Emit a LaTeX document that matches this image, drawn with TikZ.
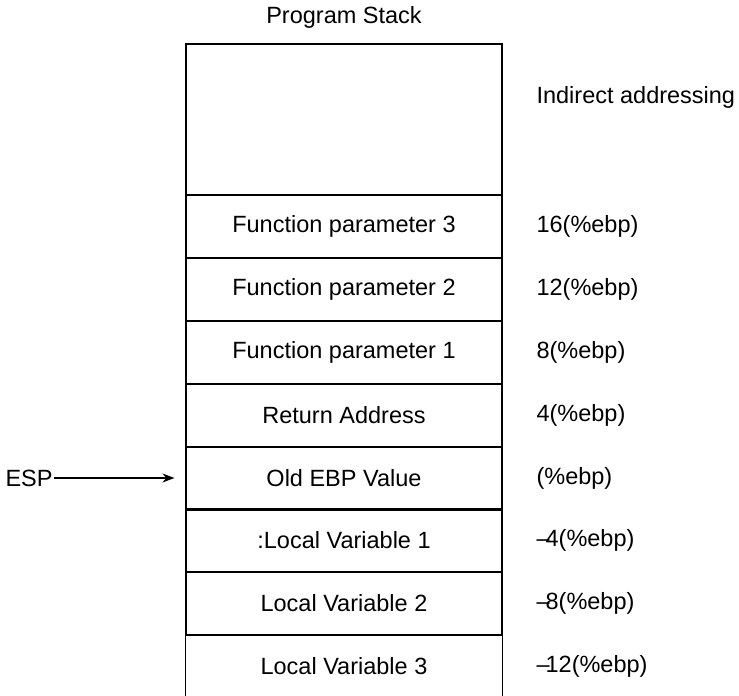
\documentclass[tikz,border=0pt]{standalone}
\usepackage{fontspec}
\setmainfont{Liberation Sans}
\usetikzlibrary{arrows.meta}

\tikzset{
  cell/.style={draw, minimum width=316pt, minimum height=63pt, inner sep=0pt},
  addr/.style={anchor=west, inner sep=0pt},
}

\begin{document}
\begin{tikzpicture}[x=1pt, y=-1pt, line width=1.1pt,
    every node/.style={font=\fontsize{23.5}{28}\selectfont}]
                \useasboundingbox (0,0) rectangle (739,696);
                \coordinate (bot) at (0,696);

                \node (title) at (344,17) {Program Stack};

                \node[cell, minimum height=151pt] (top) at (344,119.5) {};
                \node[cell] (p3) at (344,226.5) {Function parameter 3};
                \node[cell] (p2) at (344,289.5) {Function parameter 2};
                \node[cell] (p1) at (344,352.5) {Function parameter 1};
                \node[cell] (ret) at (344,415.5) {Return Address};
                \node[cell] (old) at (344,478) {Old EBP Value};
                \node[cell] (lv1) at (344,540.5) {:Local Variable 1};
                \node[cell] (lv2) at (344,603.5) {Local Variable 2};
                \node[cell, draw=none] (lv3) at (344,666.5) {Local Variable 3};

                \draw (lv3.north west) -- (lv3.north west |- bot);
                \draw (lv3.north east) -- (lv3.north east |- bot);
                \draw[line width=2pt] (old.south west) -- (old.south east);

                \node[addr] (ind) at (536,97) {Indirect addressing};
                \node[addr] (a3) at (536,226.5) {16(\%ebp)};
                \node[addr] (a2) at (536,289.5) {12(\%ebp)};
                \node[addr] (a1) at (536,352.5) {8(\%ebp)};
                \node[addr] (ar) at (536,415.5) {4(\%ebp)};
                \node[addr] (ao) at (536,478) {(\%ebp)};
                \node[addr] (l1) at (536,540.5) {--\kern-4pt4(\%ebp)};
                \node[addr] (l2) at (536,603.5) {--\kern-4pt8(\%ebp)};
                \node[addr] (l3) at (536,666.5) {--\kern-4pt12(\%ebp)};

                \node[anchor=west, inner sep=1pt] (esp) at (4,478) {ESP};
                \draw[-{Stealth[length=12pt, width=9pt]}, shorten >=11pt] (esp) -- (old.west);
            \end{tikzpicture}
\end{document}
